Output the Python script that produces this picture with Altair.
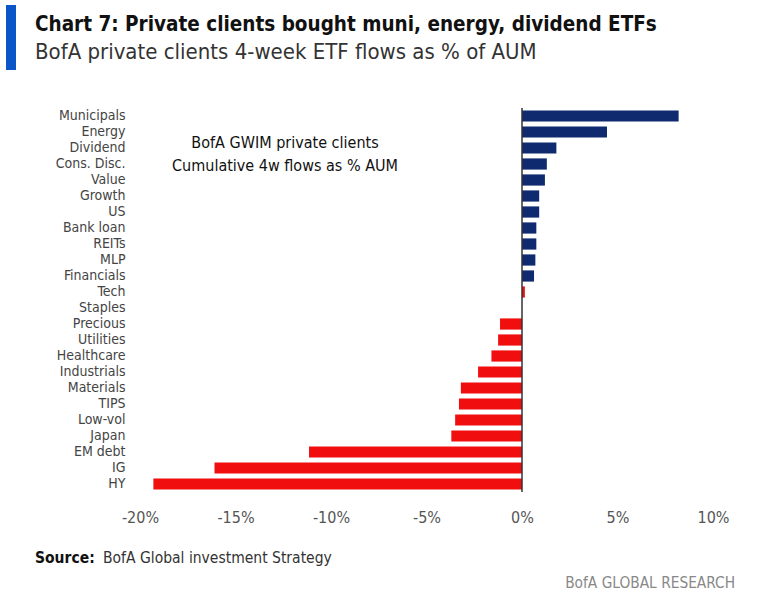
import altair as alt
import pandas as pd

categories = ["Municipals", "Energy", "Dividend", "Cons. Disc.", "Value", "Growth", "US",
              "Bank loan", "REITs", "MLP", "Financials", "Tech", "Staples", "Precious",
              "Utilities", "Healthcare", "Industrials", "Materials", "TIPS", "Low-vol",
              "Japan", "EM debt", "IG", "HY"]
flows = [8.2, 4.45, 1.8, 1.3, 1.2, 0.9, 0.9, 0.75, 0.75, 0.7, 0.63, 0.15, 0.0, -1.15,
         -1.25, -1.6, -2.3, -3.2, -3.3, -3.5, -3.7, -11.15, -16.1, -19.3]
groups = ["Buy"] * 11 + ["Sell"] * 13
x_ticks = [-20, -15, -10, -5, 0, 5, 10]

df = pd.DataFrame({"cat": categories, "flow": flows, "grp": groups})
one = pd.DataFrame({"k": [0]})

FONT = "DejaVu Sans Condensed"

bars = alt.Chart(df).mark_bar().encode(
    x=alt.X("flow:Q", scale=alt.Scale(domain=[-20, 10], nice=False, zero=False),
            axis=alt.Axis(values=x_ticks, format=".0f", labelExpr="datum.value + '%'",
                          title=None, grid=False, domain=False, ticks=False,
                          labelFontSize=16, labelColor="#555", labelFont=FONT,
                          labelPadding=17, labelFlush=False)),
    y=alt.Y("cat:N", sort=categories,
            scale=alt.Scale(paddingInner=0.3, paddingOuter=0.15),
            axis=alt.Axis(title=None, domain=False, ticks=False, labelFontSize=14,
                          labelColor="#444", labelFont=FONT, labelPadding=15)),
    color=alt.Color("grp:N", scale=alt.Scale(domain=["Buy", "Sell"],
                                             range=["#0f2a6e", "#f00e0e"]), legend=None),
)

zero = alt.Chart(one).mark_rule(color="#333", strokeWidth=1.5).encode(
    x=alt.datum(0), y=alt.value(0), y2=alt.value(384))

def txt(text, x, y, size, color="#222", weight="normal", align="left", font=FONT):
    return alt.Chart(one).mark_text(text=text, fontSize=size, color=color, fontWeight=weight,
                                    align=align, baseline="alphabetic", font=font).encode(
        x=alt.value(x), y=alt.value(y))

accent = alt.Chart(one).mark_rect(color="#0a55c8").encode(
    x=alt.value(-134), x2=alt.value(-124), y=alt.value(-103), y2=alt.value(-38))

layers = [
    bars, zero, accent,
    txt("Chart 7: Private clients bought muni, energy, dividend ETFs", -105, -77, 20.5,
        color="#111", weight="bold"),
    txt("BofA private clients 4-week ETF flows as % of AUM", -105, -49, 22, color="#333"),
    txt("BofA GWIM private clients", 145, 40, 16, color="#111", align="center"),
    txt("Cumulative 4w flows as % AUM", 145, 63, 16, color="#111", align="center"),
    txt("Source:", -105, 455, 15.5, color="#111", weight="bold"),
    txt("BofA Global investment Strategy", -37, 455, 15.5, color="#333"),
    txt("BofA GLOBAL RESEARCH", 595, 480, 15.3, color="#888", align="right"),
]

chart = alt.layer(*layers).properties(
    width=573, height=384,
    autosize=alt.AutoSizeParams(type="none"),
    padding={"left": 140, "top": 108, "right": 45, "bottom": 114},
    background="white",
).configure_view(stroke=None)

chart.save("out.html", embed_options={"renderer": "svg", "actions": False})
